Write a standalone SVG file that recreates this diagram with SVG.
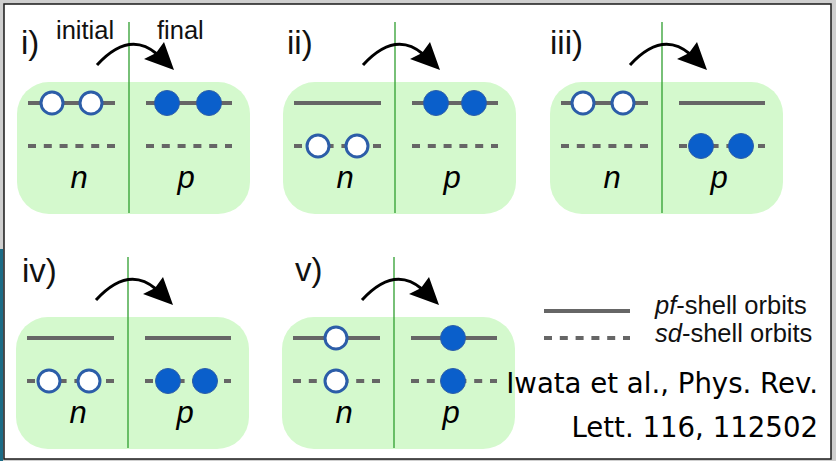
<svg xmlns="http://www.w3.org/2000/svg" xmlns:xlink="http://www.w3.org/1999/xlink" width="836" height="461" viewBox="0 0 836 461">
<style>
.box{fill:#d4f9cd}
.axis{stroke:#2f9e2f;stroke-width:1.3}
.pf{stroke:#666;stroke-width:4}
.sd{stroke:#666;stroke-width:4;stroke-dasharray:8 7.8}
.hole{fill:#fff;stroke:#2c5da8;stroke-width:3}
.part{fill:#0a5fcb;stroke:#2c5da8;stroke-width:1}
.lbl{font-family:"Liberation Sans",Arial,sans-serif;font-size:33px;fill:#111}
.top{font-family:"Liberation Sans",Arial,sans-serif;font-size:25.5px;fill:#111}
.np{font-family:"Liberation Sans",Arial,sans-serif;font-size:31px;font-style:italic;fill:#000;text-anchor:middle}
.leg{font-family:"Liberation Sans",Arial,sans-serif;font-size:25.5px;fill:#111}
.cite{font-family:"DejaVu Sans",Verdana,sans-serif;font-size:27.6px;fill:#000;text-anchor:end}
.arr{fill:none;stroke:#000;stroke-width:3}
</style>
<defs>
<g id="arrow"><path class="arr" d="M80,-17 Q112,-52 140,-28"/><polygon points="157,-12 127,-23 139,-29 147,-40" fill="#000"/></g>
</defs>
<rect x="0" y="0" width="836" height="461" fill="#cfcfcf"/>
<rect x="0" y="249" width="3" height="212" fill="#1c6b85"/>
<rect x="4" y="4" width="827" height="455" fill="#fff" stroke="#1a1a1a" stroke-width="1.5"/>

<g id="panel-i" transform="translate(17,82)">
<rect class="box" x="0" y="0" width="233" height="132" rx="32"/>
<line class="axis" x1="112" y1="-60" x2="112" y2="131"/>
<line class="pf" x1="11" y1="21" x2="98" y2="21"/><line class="pf" x1="129" y1="21" x2="215" y2="21"/>
<line class="sd" x1="11" y1="64" x2="98" y2="64"/><line class="sd" x1="129" y1="64" x2="215" y2="64"/>
<circle class="hole" cx="35" cy="21" r="11"/><circle class="hole" cx="74" cy="21" r="11"/>
<circle class="part" cx="150" cy="21" r="12.5"/><circle class="part" cx="192" cy="21" r="12.5"/>
<text class="np" x="62" y="106">n</text><text class="np" x="169" y="106">p</text>
</g>
<g id="panel-ii" transform="translate(283,82)">
<rect class="box" x="0" y="0" width="233" height="132" rx="32"/>
<line class="axis" x1="112" y1="-60" x2="112" y2="131"/>
<line class="pf" x1="11" y1="21" x2="98" y2="21"/><line class="pf" x1="129" y1="21" x2="215" y2="21"/>
<line class="sd" x1="11" y1="64" x2="98" y2="64"/><line class="sd" x1="129" y1="64" x2="215" y2="64"/>
<circle class="hole" cx="35" cy="64" r="11"/><circle class="hole" cx="74" cy="64" r="11"/>
<circle class="part" cx="153" cy="21" r="12.5"/><circle class="part" cx="191" cy="21" r="12.5"/>
<text class="np" x="62" y="106">n</text><text class="np" x="169" y="106">p</text>
</g>
<g id="panel-iii" transform="translate(550,82)">
<rect class="box" x="0" y="0" width="233" height="132" rx="32"/>
<line class="axis" x1="112" y1="-60" x2="112" y2="131"/>
<line class="pf" x1="11" y1="21" x2="98" y2="21"/><line class="pf" x1="129" y1="21" x2="215" y2="21"/>
<line class="sd" x1="11" y1="64" x2="98" y2="64"/><line class="sd" x1="129" y1="64" x2="215" y2="64"/>
<circle class="hole" cx="33" cy="21" r="11"/><circle class="hole" cx="73" cy="21" r="11"/>
<circle class="part" cx="151" cy="64" r="12.5"/><circle class="part" cx="191" cy="64" r="12.5"/>
<text class="np" x="62" y="106">n</text><text class="np" x="169" y="106">p</text>
</g>
<g id="panel-iv" transform="translate(16,317)">
<rect class="box" x="0" y="0" width="233" height="132" rx="32"/>
<line class="axis" x1="112" y1="-60" x2="112" y2="131"/>
<line class="pf" x1="11" y1="21" x2="98" y2="21"/><line class="pf" x1="129" y1="21" x2="215" y2="21"/>
<line class="sd" x1="11" y1="64" x2="98" y2="64"/><line class="sd" x1="129" y1="64" x2="215" y2="64"/>
<circle class="hole" cx="33" cy="64" r="11"/><circle class="hole" cx="73" cy="64" r="11"/>
<circle class="part" cx="152" cy="64" r="12.5"/><circle class="part" cx="189" cy="64" r="12.5"/>
<text class="np" x="62" y="106">n</text><text class="np" x="169" y="106">p</text>
</g>
<g id="panel-v" transform="translate(282,317)">
<rect class="box" x="0" y="0" width="233" height="132" rx="32"/>
<line class="axis" x1="112" y1="-60" x2="112" y2="131"/>
<line class="pf" x1="11" y1="21" x2="98" y2="21"/><line class="pf" x1="129" y1="21" x2="215" y2="21"/>
<line class="sd" x1="11" y1="64" x2="98" y2="64"/><line class="sd" x1="129" y1="64" x2="215" y2="64"/>
<circle class="hole" cx="54" cy="21" r="11"/><circle class="hole" cx="54" cy="64" r="11"/>
<circle class="part" cx="171" cy="21" r="12.5"/><circle class="part" cx="171" cy="64" r="12.5"/>
<text class="np" x="62" y="106">n</text><text class="np" x="169" y="106">p</text>
</g>

<g id="connectors">
<use xlink:href="#arrow" transform="translate(17,82)"/>
<use xlink:href="#arrow" transform="translate(283,82)"/>
<use xlink:href="#arrow" transform="translate(550,82)"/>
<use xlink:href="#arrow" transform="translate(16,317)"/>
<use xlink:href="#arrow" transform="translate(282,317)"/>
</g>

<g id="labels">
<text class="lbl" x="21" y="54">i)</text>
<text class="top" x="56" y="39">initial</text>
<text class="top" x="157" y="39">final</text>
<text class="lbl" x="287" y="54">ii)</text>
<text class="lbl" x="550" y="54">iii)</text>
<text class="lbl" x="22" y="282">iv)</text>
<text class="lbl" x="295" y="281">v)</text>
</g>

<g id="legend">
<line class="pf" x1="544" y1="311" x2="630" y2="311"/>
<line class="sd" x1="544" y1="338" x2="630" y2="338"/>
<text class="leg" x="655" y="314"><tspan font-style="italic">pf</tspan>-shell orbits</text>
<text class="leg" x="655" y="342"><tspan font-style="italic">sd</tspan>-shell orbits</text>
</g>

<g id="citation">
<text class="cite" x="818" y="393">Iwata et al., Phys. Rev.</text>
<text class="cite" x="818" y="437">Lett. 116, 112502</text>
</g>
</svg>
